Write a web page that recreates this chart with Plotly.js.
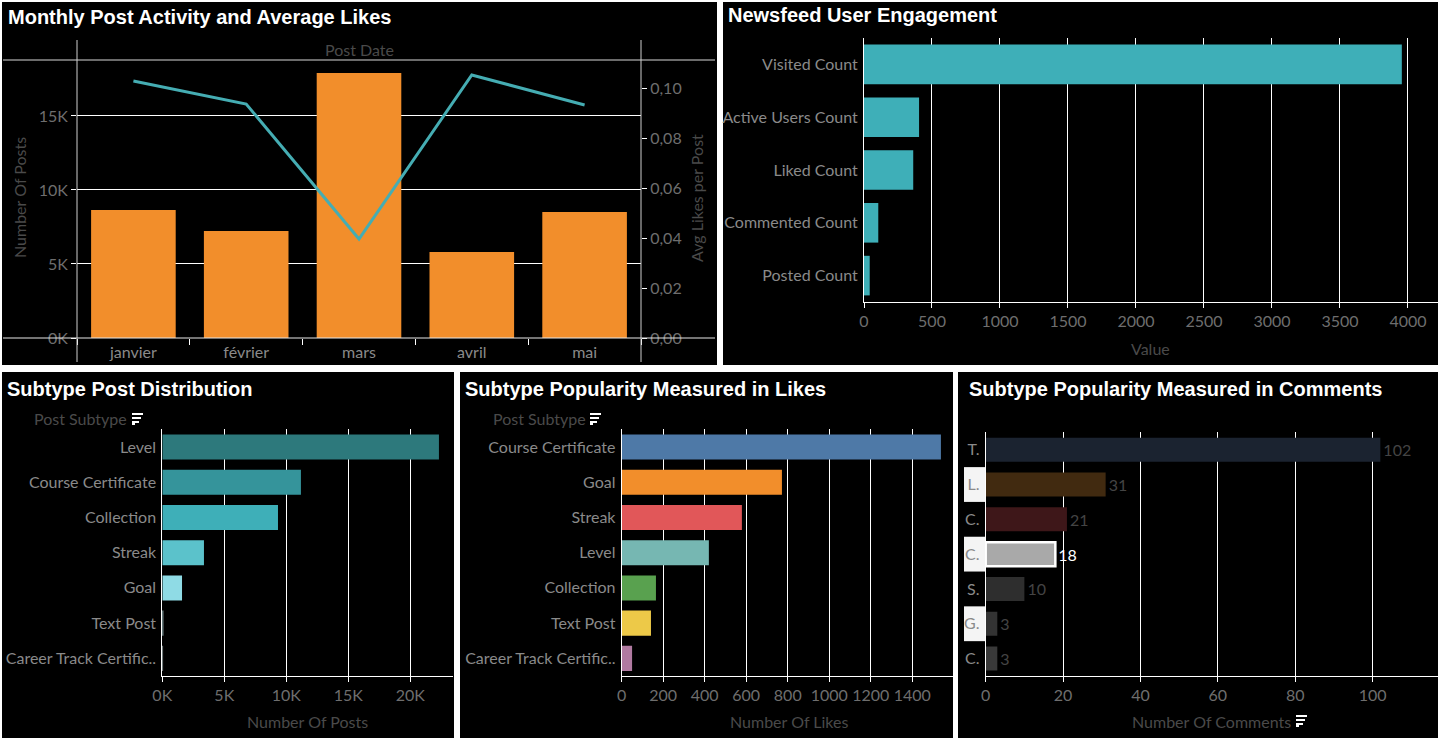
<!DOCTYPE html>
<html>
<head>
<meta charset="utf-8">
<script src="https://cdn.plot.ly/plotly-3.0.1.min.js"></script>
<style>
  html, body { margin: 0; padding: 0; background: #ffffff; }
  #chart { width: 1438px; height: 740px; }
</style>
</head>
<body>
<div id="chart"></div>
<script>
// ---------------- DATA ----------------
const months = ['janvier', 'février', 'mars', 'avril', 'mai'];
const monthPosts = [8650, 7230, 17900, 5810, 8510];
const monthAvgLikes = [0.1028, 0.0936, 0.0396, 0.1052, 0.0932];
const postTickVals = [0, 5000, 10000, 15000];
const postTickText = ['0K', '5K', '10K', '15K'];
const likeTickVals = [0, 0.02, 0.04, 0.06, 0.08, 0.10];
const likeTickText = ['0,00', '0,02', '0,04', '0,06', '0,08', '0,10'];

const engagementMetrics = ['Visited Count', 'Active Users Count', 'Liked Count', 'Commented Count', 'Posted Count'];
const engagementValues = [3955, 405, 362, 105, 42];

const subtypesByPosts = ['Level', 'Course Certificate', 'Collection', 'Streak', 'Goal', 'Text Post', 'Career Track Certific..'];
const postsBySubtype = [22310, 11180, 9330, 3360, 1590, 80, 60];
const postsColors = ['#2d797c', '#35949b', '#3eafb8', '#5bc2cb', '#8fdbe5', '#c6edf1', '#e2f6f8'];
const postsAxisTicks = [0, 5000, 10000, 15000, 20000];
const postsAxisText = ['0K', '5K', '10K', '15K', '20K'];

const subtypesByLikes = ['Course Certificate', 'Goal', 'Streak', 'Level', 'Collection', 'Text Post', 'Career Track Certific..'];
const likesBySubtype = [1538, 772, 579, 420, 165, 141, 50];
const likesColors = ['#4e79a7', '#f28e2b', '#e15759', '#76b7b2', '#59a14f', '#edc948', '#b07aa1'];
const likesAxisTicks = [0, 200, 400, 600, 800, 1000, 1200, 1400];

const commentLabels = ['T.', 'L.', 'C.', 'C.', 'S.', 'G.', 'C.'];
const commentValues = [102, 31, 21, 18, 10, 3, 3];
const commentColors = ['#1b2330', '#412a10', '#3e1719', '#a9a9a9', '#2e2e2e', '#333333', '#393939'];
const commentTextColors = ['#444444', '#444444', '#444444', '#ffffff', '#444444', '#444444', '#444444'];
const commentLineWidths = [0, 0, 0, 2.5, 0, 0, 0];
const commentAxisTicks = [0, 20, 40, 60, 80, 100];

// ---------------- HELPERS ----------------
const W = 1438, H = 740;
const px = v => v / W;
const py = v => 1 - v / H;

const FONT = 'Lato, "Open Sans", "DejaVu Sans", sans-serif';
const TITLE_FONT = '"Liberation Sans", Arial, sans-serif';
const tickFont = { family: FONT, size: 16, color: '#6e6e6e' };
const catFont = { family: FONT, size: 16, color: '#8a8a8a' };

// ---------------- TRACES ----------------
const traces = [
  {
    type: 'bar', x: months, y: monthPosts, xaxis: 'x', yaxis: 'y',
    marker: { color: '#f28e2b' }, width: 0.75, hoverinfo: 'x+y'
  },
  {
    type: 'scatter', mode: 'lines', x: months, y: monthAvgLikes, xaxis: 'x', yaxis: 'y2',
    line: { color: '#45adb3', width: 3 }, hoverinfo: 'x+y'
  },
  {
    type: 'bar', orientation: 'h', y: engagementMetrics, x: engagementValues, xaxis: 'x2', yaxis: 'y3',
    marker: { color: '#3eafb8' }, width: 0.75
  },
  {
    type: 'bar', orientation: 'h', y: subtypesByPosts, x: postsBySubtype, xaxis: 'x3', yaxis: 'y4',
    marker: { color: postsColors }, width: 0.71
  },
  {
    type: 'bar', orientation: 'h', y: subtypesByLikes, x: likesBySubtype, xaxis: 'x4', yaxis: 'y5',
    marker: { color: likesColors }, width: 0.71
  },
  {
    type: 'bar', orientation: 'h', y: commentLabels.map((_, i) => i), x: commentValues, xaxis: 'x5', yaxis: 'y6',
    marker: { color: commentColors, line: { color: '#ffffff', width: commentLineWidths } }, width: 0.69,
    text: commentValues.map(String), textposition: 'outside', cliponaxis: false, constraintext: 'none',
    textfont: { family: FONT, size: 16, color: commentTextColors }
  }
];

// ---------------- SHAPES ----------------
const shapes = [];
function panel(x0, y0, x1, y1) {
  shapes.push({ type: 'rect', xref: 'paper', yref: 'paper', x0: px(x0), x1: px(x1), y0: py(y1), y1: py(y0),
    fillcolor: '#000000', line: { width: 0 }, layer: 'below' });
}
panel(2, 2, 717, 365);
panel(723, 2, 1438, 365);
panel(2, 372, 454, 738);
panel(460, 372, 953, 738);
panel(958, 372, 1438, 738);

function pline(x0, y0, x1, y1, color) {
  shapes.push({ type: 'line', xref: 'paper', yref: 'paper', x0: px(x0), x1: px(x1), y0: py(y0), y1: py(y1),
    line: { color: color, width: 1 }, layer: 'above' });
}
// chart 1 header / frame lines
pline(3, 60, 715, 60, '#d8d8d8');
pline(3, 338, 715, 338, '#e8e8e8');
pline(77, 40, 77, 362, '#cfcfcf');
pline(641, 40, 641, 362, '#cfcfcf');

// light label cells in comment chart (rows 2, 4, 6)
[1, 3, 5].forEach(i => {
  const top = 432.3 + i * 34.81, bot = top + 34.81;
  shapes.push({ type: 'rect', xref: 'paper', yref: 'paper', x0: px(964), x1: px(985), y0: py(bot), y1: py(top),
    fillcolor: '#f4f4f4', line: { width: 0 }, layer: 'below' });
});

function sortIcon(x, y) {
  const r = (a, b, c, d) => shapes.push({ type: 'rect', xref: 'paper', yref: 'paper',
    x0: px(x + a), x1: px(x + c), y0: py(y + d), y1: py(y + b), fillcolor: '#ffffff', line: { width: 0 }, layer: 'above' });
  r(0, 0, 11, 2);
  r(0, 4, 9, 6);
  r(0, 8, 7, 10);
  r(0, 8, 3, 12);
}
sortIcon(132, 413);
sortIcon(590, 413);
sortIcon(1296, 715);

// ---------------- ANNOTATIONS ----------------
const annotations = [];
function title(text, x, y) {
  annotations.push({ text: '<b>' + text + '</b>', xref: 'paper', yref: 'paper', x: px(x), y: py(y),
    xanchor: 'left', yanchor: 'middle', showarrow: false,
    font: { family: TITLE_FONT, size: 20, color: '#ffffff' } });
}
title('Monthly Post Activity and Average Likes', 6, 17);
title('Newsfeed User Engagement', 726, 15);
title('Subtype Post Distribution', 5, 389);
title('Subtype Popularity Measured in Likes', 463, 389);
title('Subtype Popularity Measured in Comments', 967, 389);

function label(text, x, y, opts) {
  annotations.push(Object.assign({ text: text, xref: 'paper', yref: 'paper', x: px(x), y: py(y),
    xanchor: 'center', yanchor: 'middle', showarrow: false,
    font: { family: FONT, size: 16, color: '#4a4a4a' } }, opts || {}));
}
label('Post Date', 359, 50);
label('Number Of Posts', 20, 198, { textangle: -90 });
label('Avg Likes per Post', 697, 198, { textangle: -90 });
label('Value', 1150, 348);
label('Post Subtype', 32, 418, { xanchor: 'left' });
label('Post Subtype', 491, 418, { xanchor: 'left' });
label('Number Of Posts', 307, 721);
label('Number Of Likes', 789, 721);
label('Number Of Comments', 1211, 721);

// ---------------- AXES ----------------
const grid = { showgrid: true, gridcolor: '#ffffff', gridwidth: 1 };
const hAxisBase = Object.assign({}, grid, {
  zeroline: false, showline: true, linecolor: '#ffffff', linewidth: 1,
  ticks: 'outside', ticklen: 5, tickcolor: '#ffffff', tickfont: tickFont, fixedrange: true
});
const catAxisBase = {
  type: 'category', showgrid: false, zeroline: false, showline: true, linecolor: '#ffffff', linewidth: 1,
  ticks: '', tickfont: catFont, ticklabelstandoff: 2, fixedrange: true
};

const layout = {
  width: W, height: H,
  margin: { l: 0, r: 0, t: 0, b: 0, pad: 0 },
  paper_bgcolor: '#ffffff', plot_bgcolor: 'rgba(0,0,0,0)',
  showlegend: false, font: { family: FONT },
  xaxis: {
    domain: [px(77), px(641)], anchor: 'y', type: 'category', range: [-0.5, 4.5],
    showgrid: false, zeroline: false, showline: false,
    ticks: 'outside', tickson: 'boundaries', ticklen: 6, tickcolor: '#ffffff',
    ticklabelstandoff: 3, tickfont: catFont, fixedrange: true
  },
  yaxis: Object.assign({}, grid, {
    domain: [py(338), py(60)], anchor: 'x', range: [0, 18780],
    tickvals: postTickVals, ticktext: postTickText, zeroline: false, showline: false,
    ticks: 'outside', ticklen: 5, tickcolor: '#ffffff', tickfont: tickFont, fixedrange: true
  }),
  yaxis2: {
    overlaying: 'y', side: 'right', anchor: 'x', range: [0, 0.1112],
    tickvals: likeTickVals, ticktext: likeTickText, showgrid: false, zeroline: false, showline: false,
    ticks: 'outside', ticklen: 5, tickcolor: '#ffffff', tickfont: tickFont, fixedrange: true
  },
  xaxis2: Object.assign({}, hAxisBase, { domain: [px(864), 1], anchor: 'y3', range: [0, 4221],
    tickvals: [0, 500, 1000, 1500, 2000, 2500, 3000, 3500, 4000] }),
  yaxis3: Object.assign({}, catAxisBase, { domain: [py(302), py(38)], anchor: 'x2', range: [4.5, -0.5],
    categoryorder: 'array', categoryarray: engagementMetrics }),
  xaxis3: Object.assign({}, hAxisBase, { domain: [px(162.3), px(452.7)], anchor: 'y4', range: [0, 23420],
    tickvals: postsAxisTicks, ticktext: postsAxisText }),
  yaxis4: Object.assign({}, catAxisBase, { domain: [py(676), py(429.3)], anchor: 'x3', range: [6.5, -0.5],
    categoryorder: 'array', categoryarray: subtypesByPosts }),
  xaxis4: Object.assign({}, hAxisBase, { domain: [px(621.7), px(954)], anchor: 'y5', range: [0, 1601],
    tickvals: likesAxisTicks }),
  yaxis5: Object.assign({}, catAxisBase, { domain: [py(676), py(429.3)], anchor: 'x4', range: [6.5, -0.5],
    categoryorder: 'array', categoryarray: subtypesByLikes, mirror: true }),
  xaxis5: Object.assign({}, hAxisBase, { domain: [px(985.7), 1], anchor: 'y6', range: [0, 116.9],
    tickvals: commentAxisTicks }),
  yaxis6: Object.assign({}, catAxisBase, { type: 'linear', domain: [py(676), py(432.3)], anchor: 'x5',
    range: [6.5, -0.5], tickvals: commentLabels.map((_, i) => i), ticktext: commentLabels }),
  shapes: shapes,
  annotations: annotations
};

Plotly.newPlot('chart', traces, layout, { displayModeBar: false, staticPlot: true });
</script>
</body>
</html>
